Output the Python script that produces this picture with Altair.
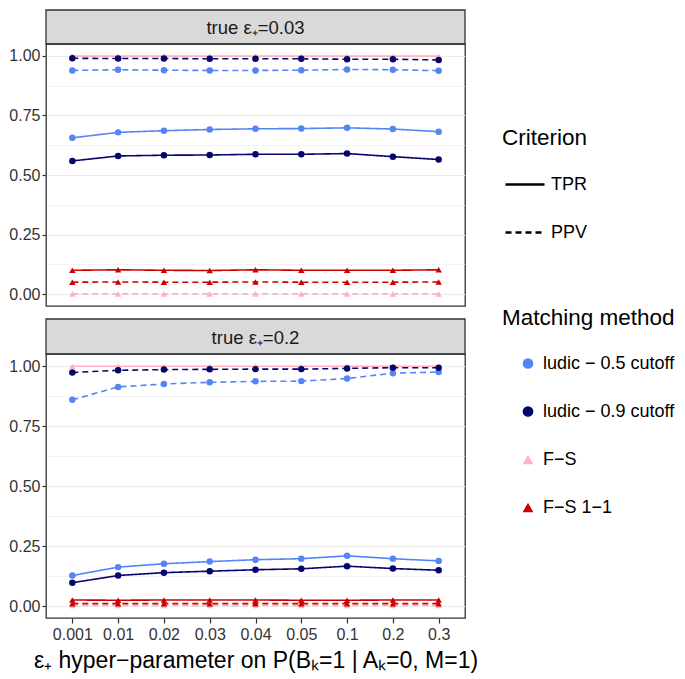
import altair as alt
import pandas as pd

# ---------------- data ----------------
X_LABELS = ["0.001", "0.01", "0.02", "0.03", "0.04", "0.05", "0.1", "0.2", "0.3"]
METHODS = ["ludic − 0.5 cutoff", "ludic − 0.9 cutoff", "F−S", "F−S 1−1"]
METHOD_COLORS = ["#5385F6", "#05056E", "#FFB3BE", "#CC0000"]
METHOD_SHAPES = ["circle", "circle", "triangle-up", "triangle-up"]
CRITERIA = ["TPR", "PPV"]
PANEL_TITLES = ["true ε₊=0.03", "true ε₊=0.2"]
X_TITLE = "ε₊ hyper−parameter on P(Bₖ=1 | Aₖ=0, M=1)"

# panel 1: true eps = 0.03
fs_tpr_1 = [0.999, 0.999, 0.999, 0.999, 0.999, 0.999, 0.999, 0.999, 0.999]
fs_ppv_1 = [0.001, 0.001, 0.001, 0.001, 0.001, 0.001, 0.001, 0.001, 0.001]
fs11_tpr_1 = [0.100, 0.102, 0.100, 0.099, 0.102, 0.100, 0.100, 0.100, 0.102]
fs11_ppv_1 = [0.050, 0.051, 0.050, 0.050, 0.051, 0.050, 0.050, 0.050, 0.051]
l5_tpr_1 = [0.656, 0.679, 0.686, 0.691, 0.694, 0.695, 0.698, 0.693, 0.682]
l5_ppv_1 = [0.939, 0.942, 0.940, 0.939, 0.939, 0.940, 0.943, 0.942, 0.938]
l9_tpr_1 = [0.559, 0.580, 0.583, 0.584, 0.587, 0.587, 0.590, 0.577, 0.565]
l9_ppv_1 = [0.990, 0.989, 0.989, 0.988, 0.988, 0.988, 0.986, 0.986, 0.983]

# panel 2: true eps = 0.2
fs_tpr_2 = [0.999, 0.999, 0.999, 0.999, 0.999, 0.999, 0.999, 0.999, 0.999]
fs_ppv_2 = [0.002, 0.002, 0.002, 0.002, 0.002, 0.002, 0.002, 0.002, 0.002]
fs11_tpr_2 = [0.025, 0.024, 0.025, 0.025, 0.025, 0.024, 0.024, 0.025, 0.025]
fs11_ppv_2 = [0.010, 0.010, 0.010, 0.010, 0.010, 0.010, 0.010, 0.010, 0.010]
l5_tpr_2 = [0.127, 0.162, 0.176, 0.185, 0.193, 0.197, 0.209, 0.197, 0.188]
l5_ppv_2 = [0.859, 0.913, 0.925, 0.932, 0.936, 0.937, 0.948, 0.970, 0.975]
l9_tpr_2 = [0.097, 0.127, 0.139, 0.145, 0.151, 0.155, 0.166, 0.156, 0.149]
l9_ppv_2 = [0.973, 0.982, 0.985, 0.986, 0.987, 0.987, 0.990, 0.993, 0.993]

SERIES_1 = [
    ("F−S", "TPR", fs_tpr_1), ("F−S", "PPV", fs_ppv_1),
    ("F−S 1−1", "TPR", fs11_tpr_1), ("F−S 1−1", "PPV", fs11_ppv_1),
    ("ludic − 0.5 cutoff", "TPR", l5_tpr_1), ("ludic − 0.5 cutoff", "PPV", l5_ppv_1),
    ("ludic − 0.9 cutoff", "TPR", l9_tpr_1), ("ludic − 0.9 cutoff", "PPV", l9_ppv_1),
]
SERIES_2 = [
    ("F−S", "TPR", fs_tpr_2), ("F−S", "PPV", fs_ppv_2),
    ("F−S 1−1", "TPR", fs11_tpr_2), ("F−S 1−1", "PPV", fs11_ppv_2),
    ("ludic − 0.5 cutoff", "TPR", l5_tpr_2), ("ludic − 0.5 cutoff", "PPV", l5_ppv_2),
    ("ludic − 0.9 cutoff", "TPR", l9_tpr_2), ("ludic − 0.9 cutoff", "PPV", l9_ppv_2),
]


def make_df(series):
    rows = []
    for method, crit, vals in series:
        for xl, v in zip(X_LABELS, vals):
            rows.append({"hyper": xl, "value": v, "method": method, "criterion": crit})
    return pd.DataFrame(rows)


# ---------------- styling ----------------
FONT = "Liberation Sans"
PW = 419
STRIP_H = [34, 35]
GAP = 13
PANEL_H = [262, 264]
Y_TICKS = [0.0, 0.125, 0.25, 0.375, 0.5, 0.625, 0.75, 0.875, 1.0]
MAJOR = "abs(datum.value * 4 - round(datum.value * 4)) < 0.001"

crit_legend = alt.Legend(
    title="Criterion", orient="none", legendX=456, legendY=117,
    symbolType="stroke", symbolSize=1521, symbolStrokeWidth=2.5,
    symbolStrokeColor="black", symbolOffset=2, labelOffset=5,
    clipHeight=18, rowPadding=30, titlePadding=26, padding=0,
    titleFontSize=22.5, titleFontWeight="normal", titleColor="black",
    labelFontSize=18, labelColor="black", labelLimit=400,
    titleFont=FONT, labelFont=FONT,
)
meth_legend = alt.Legend(
    title="Matching method", orient="none", legendX=456, legendY=297,
    symbolSize=115, symbolOffset=17, labelOffset=6, symbolStrokeWidth=0,
    clipHeight=18, rowPadding=30, titlePadding=25, padding=0,
    titleFontSize=22.5, titleFontWeight="normal", titleColor="black",
    labelFontSize=18, labelColor="black", labelLimit=400,
    titleFont=FONT, labelFont=FONT,
)


def y_axis():
    return alt.Axis(
        values=Y_TICKS,
        labelExpr=f"{MAJOR} ? format(datum.value, '.2f') : ''",
        title=None, domain=False,
        tickColor="#333333", tickWidth=1.2, tickSize=4,
        tickOpacity={"condition": {"test": MAJOR, "value": 1}, "value": 0},
        gridColor="#EBEBEB",
        gridWidth={"condition": {"test": MAJOR, "value": 1.2}, "value": 0.6},
        labelFontSize=16, labelColor="#333333", labelPadding=2,
        labelOverlap=False, labelFlush=False, labelFont=FONT,
    )


def x_axis(show):
    if show:
        return alt.Axis(
            title=X_TITLE, labelAngle=0, labelFontSize=16, labelColor="#333333",
            tickColor="#333333", tickWidth=1.2, tickSize=5, domain=False,
            gridColor="#EBEBEB", gridWidth=1.2, titleFontSize=23,
            titleFontWeight="normal", titleColor="black", titlePadding=7,
            labelPadding=3, labelFont=FONT, titleFont=FONT,
        )
    return alt.Axis(title=None, labels=False, ticks=False, domain=False,
                    gridColor="#EBEBEB", gridWidth=1.2)


def panel(series, show_x, height):
    df = make_df(series)
    base = alt.Chart(df)
    x = alt.X("hyper:N", sort=X_LABELS,
              scale=alt.Scale(type="point", padding=0.575),
              axis=x_axis(show_x))
    y = alt.Y("value:Q", scale=alt.Scale(domain=[-0.05, 1.05], nice=False, zero=False),
              axis=y_axis())
    color_scale = alt.Scale(domain=METHODS, range=METHOD_COLORS)
    lines = base.mark_line(strokeWidth=1.6).encode(
        x=x, y=y,
        color=alt.Color("method:N", scale=color_scale, legend=meth_legend),
        strokeDash=alt.StrokeDash("criterion:N",
                                  scale=alt.Scale(domain=CRITERIA, range=[[1, 0], [6, 4]]),
                                  legend=crit_legend),
    )
    points = base.mark_point(filled=True, size=42, opacity=1).encode(
        x=x, y=y,
        color=alt.Color("method:N", scale=color_scale, legend=meth_legend),
        shape=alt.Shape("method:N", scale=alt.Scale(domain=METHODS, range=METHOD_SHAPES),
                        legend=meth_legend),
    )
    return alt.layer(lines, points).properties(width=PW, height=height)


def strip(title, strip_h, gap):
    df = pd.DataFrame({"label": [title]})
    base = alt.Chart(df)
    bg = base.mark_rect(fill="#D9D9D9", stroke="#333333", strokeWidth=1.3).encode(
        x=alt.value(0), x2=alt.value("width"), y=alt.value(gap), y2=alt.value("height"))
    txt = base.mark_text(fontSize=18.5, color="#1A1A1A", align="center",
                         baseline="middle", font=FONT).encode(
        x=alt.value(PW / 2), y=alt.value(gap + strip_h / 2 + 1), text="label:N")
    return alt.layer(bg, txt).properties(
        width=PW, height=gap + strip_h,
        view=alt.ViewBackground(stroke="transparent", fill="transparent"))


chart = alt.vconcat(
    strip(PANEL_TITLES[0], STRIP_H[0], 0),
    panel(SERIES_1, False, PANEL_H[0]),
    strip(PANEL_TITLES[1], STRIP_H[1], GAP),
    panel(SERIES_2, True, PANEL_H[1]),
    spacing=0, bounds="flush",
).resolve_scale(
    color="shared", shape="shared", strokeDash="shared"
).properties(padding=0).configure(font=FONT).configure_view(
    stroke="#333333", strokeWidth=1.3
).configure_legend(symbolBaseStrokeColor="black")

chart.save("out.html", embed_options={"renderer": "svg", "actions": False})
